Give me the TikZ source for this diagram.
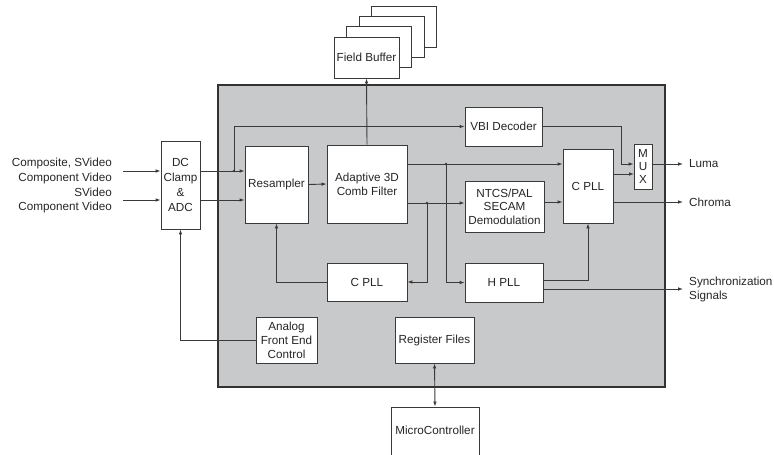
\documentclass[tikz,border=0pt]{standalone}
\usepackage{fontspec}
\setmainfont{Liberation Sans}
\usetikzlibrary{arrows.meta}
\definecolor{panelgray}{HTML}{C8C9CB}
\definecolor{linegray}{HTML}{3A3A3A}

\begin{document}
\begin{tikzpicture}[x=1pt,y=-1pt,
	blk/.style={draw=linegray, fill=white, line width=0.9pt, inner sep=1pt, align=center,
		font=\fontsize{11.7}{14}\selectfont, text=black!85},
	arr/.style={draw=linegray, line width=0.9pt, -{Latex[length=5pt,width=3.6pt]}},
	arrboth/.style={draw=linegray, line width=0.9pt, {Latex[length=5pt,width=3.6pt]}-{Latex[length=5pt,width=3.6pt]}},
	lbl/.style={font=\fontsize{11.7}{14.6}\selectfont, text=black!85, inner sep=0pt}]

	\useasboundingbox (0,0) rectangle (774,455);

	% gray panel

	\draw[fill=panelgray, draw=black!80, line width=1.1pt] (218,85) rectangle (665,387);

	% field buffer stack

	\foreach \i in {3,2,1}
		\node[blk, minimum width=65, minimum height=41] (fb\i) at (366.5+12.6*\i, 57.5-10.3*\i) {};
	\node[blk, minimum width=65, minimum height=41] (fb) at (366.5,57.5) {Field Buffer};

	% blocks

	\node[blk, minimum width=39, minimum height=88, font=\fontsize{11.7}{14.7}\selectfont] (dc) at (180.5,185) {DC\\Clamp\\\&\\ADC};
	\node[blk, minimum width=63, minimum height=77] (res) at (276.5,184.5) {Resampler};
	\node[blk, minimum width=80, minimum height=78] (comb) at (367,184) {Adaptive 3D\\Comb Filter};
	\node[blk, minimum width=77, minimum height=39] (vbi) at (503.5,126.5) {VBI Decoder};
	\node[blk, minimum width=79, minimum height=51, font=\fontsize{11.7}{13.5}\selectfont] (demod) at (504.5,206.5) {NTCS/PAL\\SECAM\\Demodulation};
	\node[blk, minimum width=50, minimum height=74] (cpll) at (588,186) {C PLL};
	\node[blk, minimum width=18, minimum height=45, font=\fontsize{11.7}{13}\selectfont] (mux) at (643,166.5) {M\\U\\X};
	\node[blk, minimum width=80, minimum height=38] (cpllb) at (367,282) {C PLL};
	\node[blk, minimum width=78, minimum height=39] (hpll) at (504,282.5) {H PLL};
	\node[blk, minimum width=61, minimum height=46] (afe) at (286.5,340) {Analog\\Front End\\Control};
	\node[blk, minimum width=79, minimum height=46] (reg) at (434.5,340) {Register Files};
	\node[blk, minimum width=88, minimum height=58, text height=8pt, text depth=12pt] (mcu) at (435,436) {MicroController};

	% inputs

	\coordinate (in1) at (123,171);
	\coordinate (in2) at (123,200);
	\node[lbl, anchor=east, align=right] (txt1) at (112,171) {Composite, SVideo\\Component Video};
	\node[lbl, anchor=east, align=right] (txt2) at (112,200.5) {SVideo\\Component Video};
	\draw[arr] (in1) -- (in1 -| dc.west);
	\draw[arr] (in2) -- (in2 -| dc.west);

	% outputs

	\coordinate (luma) at (683,164);
	\coordinate (chroma) at (683,202);
	\coordinate (sync) at (683,289);
	\node[lbl, anchor=west] (tluma) at (689,164) {Luma};
	\node[lbl, anchor=west] (tchroma) at (689,202) {Chroma};
	\node[lbl, anchor=west, align=left] (tsync) at (689,289.5) {Synchronization\\Signals};

	% branch points

	\coordinate (b1) at (234,171);
	\coordinate (b2) at (446,164);
	\coordinate (b3) at (427,203);
	\coordinate (v1) at (621,164);
	\coordinate (m2) at (634,174);
	\foreach \p in {b1,b2,b3}
		\fill[linegray] (\p) circle (1.3);

	% connections

	\draw[arr] (b1 -| dc.east) -- (b1 -| res.west);
	\draw[arr] (in2 -| dc.east) -- (in2 -| res.west);
	\draw[arr] (b1) |- (vbi.west);
	\draw[arr] (res.east) -- (comb.west);
	\draw[arr] (comb.north) -- (fb.south);
	\draw[arr] (b2 -| comb.east) -- (b2 -| cpll.west);
	\draw[arr] (b2) |- (hpll.west);
	\draw[arr] (b3 -| comb.east) -- (b3 -| demod.west);
	\draw[arr] (b3) |- (cpllb.east);
	\draw[arr] (cpllb.west) -| (res.south);
	\draw[arr] (demod.east |- chroma) -- (chroma -| cpll.west);
	\draw[arr] (vbi.east) -| (v1) -- (v1 -| mux.west);
	\draw[arr] (m2 -| cpll.east) -- (m2);
	\draw[arr] (luma -| mux.east) -- (luma);
	\draw[arr] (chroma -| cpll.east) -- (chroma);
	\draw[arr] ([yshift=2.5pt]hpll.east) -| (cpll.south);
	\draw[arr] (sync -| hpll.east) -- (sync);
	\draw[arr] (afe.west) -| (dc.south);
	\draw[arrboth] (reg.south) -- (mcu.north);

\end{tikzpicture}
\end{document}
